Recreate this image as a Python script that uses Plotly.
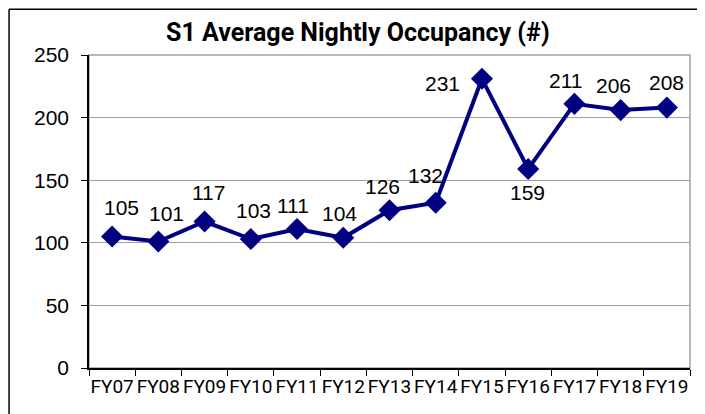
import plotly.graph_objects as go

# data
years = ["FY07", "FY08", "FY09", "FY10", "FY11", "FY12", "FY13",
         "FY14", "FY15", "FY16", "FY17", "FY18", "FY19"]
occupancy = [105, 101, 117, 103, 111, 104, 126, 132, 231, 159, 211, 206, 208]

# pixel nudges for the value labels (x, y), as placed in the original
label_shift = [(9, 29), (8, 28), (4, 29), (3, 29), (-4, 24), (-4, 24), (-7, 24),
               (-10, 27), (-39, -5), (-1, -24), (-9, 23), (-7, 25), (0, 25)]

NAVY = "#000080"
LABEL_FONT = "Liberation Sans"
NARROW_FONT = "Roboto"

fig = go.Figure()
fig.add_trace(go.Scatter(
    x=years,
    y=occupancy,
    mode="lines+markers",
    line=dict(color=NAVY, width=4),
    marker=dict(symbol="diamond", size=17, color=NAVY),
    hoverinfo="x+y",
))

for yr, val, (dx, dy) in zip(years, occupancy, label_shift):
    fig.add_annotation(
        x=yr, y=val, text=str(val), showarrow=False,
        xshift=dx, yshift=dy,
        font=dict(family=LABEL_FONT, size=21, color="#000000"),
    )

# outer chart frame (right/bottom edges fall outside the page)
fig.add_shape(type="line", xref="paper", yref="paper",
              x0=-0.133, x1=-0.133, y0=1.146, y1=-0.3,
              line=dict(color="#000000", width=1.5))
fig.add_shape(type="line", xref="paper", yref="paper",
              x0=-0.133, x1=1.05, y0=1.146, y1=1.146,
              line=dict(color="#000000", width=1.5))
# grey plot-area border on top and right
fig.add_shape(type="rect", xref="paper", yref="paper",
              x0=0, x1=1, y0=0, y1=1, layer="below",
              line=dict(color="#a0a0a0", width=1.5))

# the page body adds an 8px offset, so the figure is 8px smaller
fig.update_layout(
    width=697,
    height=406,
    margin=dict(l=81, r=15, t=47, b=46, autoexpand=False),
    paper_bgcolor="white",
    plot_bgcolor="white",
    showlegend=False,
    title=dict(
        text="<b>S1 Average Nightly Occupancy (#)</b>",
        x=0.502, xref="container", xanchor="center",
        y=0.941, yref="container", yanchor="middle",
        font=dict(family=NARROW_FONT, size=25, color="#000000"),
    ),
    xaxis=dict(
        type="category",
        tickson="boundaries",
        ticks="outside", ticklen=6, tickcolor="#000000",
        showline=True, linecolor="#000000", linewidth=1.5,
        showgrid=False,
        tickangle=0, automargin=False,
        tickfont=dict(family=NARROW_FONT, size=19, color="#000000"),
        range=[-0.5, 12.5],
    ),
    yaxis=dict(
        range=[0, 250], dtick=50,
        ticks="outside", ticklen=6, tickcolor="#000000",
        showline=True, linecolor="#000000", linewidth=1.5,
        showgrid=True, gridcolor="#a0a0a0", gridwidth=1,
        zeroline=False, automargin=False,
        ticklabelstandoff=8,
        tickfont=dict(family=LABEL_FONT, size=21, color="#000000"),
    ),
)

fig.write_html("out.html")
